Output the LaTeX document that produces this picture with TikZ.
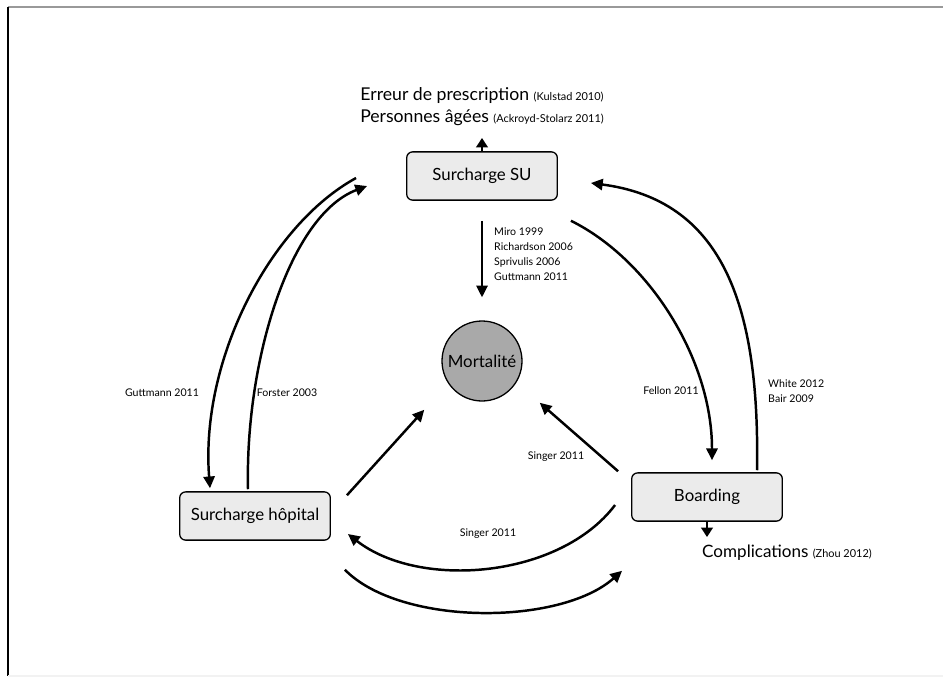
\documentclass[tikz,border=0pt]{standalone}
\usepackage{fontspec}
\setmainfont{Lato}
\usepackage{tikz}
\usetikzlibrary{shapes.geometric, arrows.meta, calc}
\definecolor{boxgray}{HTML}{EBEBEB}
\definecolor{circgray}{HTML}{A9A9A9}
\tikzstyle{loadbox} = [rectangle, rounded corners=5pt, minimum width=128pt, minimum height=41pt, text centered, draw=black, line width=1.1pt, fill=boxgray, font=\fontsize{14.3}{16}\selectfont]
\tikzstyle{outcome} = [circle, minimum size=68pt, inner sep=0pt, draw=black, line width=1.1pt, fill=circgray, font=\fontsize{14.3}{16}\selectfont]
\tikzstyle{arrow} = [line width=2.1pt, -{Triangle[length=10pt, width=9.5pt]}]
\tikzstyle{stub} = [line width=1.5pt, -{Triangle[length=8pt, width=10pt]}]
\tikzstyle{ref} = [font=\fontsize{9}{12.5}\selectfont, align=left, inner sep=0pt]
\tikzstyle{note} = [font=\fontsize{15}{17}\selectfont, inner sep=0pt]
\newcommand{\refsize}[1]{{\fontsize{9.3}{10}\selectfont #1}}

\begin{document}
\begin{tikzpicture}[x=0.85pt, y=-0.85pt]
    \useasboundingbox (0,0) rectangle (943,679);
    % frame
    \draw [gray!80, line width=2pt] (8,7) -- (943,7);
    \draw [black, line width=1pt] (8,7) -- (8,676);
    \draw [gray!10, line width=1pt] (8,676) -- (943,676);

    \node (su) [loadbox] at (482,176) {Surcharge SU};
    \node (mort) [outcome] at (482,361) {Mortalité};
    \node (hosp) [loadbox] at (255,516) {Surcharge hôpital};
    \node (board) [loadbox] at (707,497) {Boarding};

    \node (erreur) [note] at (482,96) {Erreur de prescription \refsize{(Kulstad 2010)}};
    \node (agees) [note] at (482,118) {Personnes âgées \refsize{(Ackroyd-Stolarz 2011)}};
    \node (compl) [note, anchor=west, font=\fontsize{14.5}{17}\selectfont] at (702,553) {Complications \refsize{(Zhou 2012)}};
    \coordinate (upTip) at (482,138);
    \coordinate (downTip) at (707,537);

    \node (refMort) [ref, anchor=north west] at (494,228) {Miro 1999\\Richardson 2006\\Sprivulis 2006\\Guttmann 2011};
    \node (refHospOut) [ref] at (162,393) {Guttmann 2011};
    \node (refHospIn) [ref] at (287,393) {Forster 2003};
    \node (refBoardIn) [ref] at (671,391) {Fellon 2011};
    \node (refBoardOut) [ref, anchor=west] at (768,391) {White 2012\\Bair 2009};
    \node (refSinger) [ref] at (556,457) {Singer 2011};
    \node (refBottom) [ref] at (488,534) {Singer 2011};

    \draw [stub] (su.north) -- (upTip);
    \draw [stub] (board.south) -- (downTip);
    \draw [arrow] ($(su.south)+(0,20)$) -- ($(mort.north)+(0,-23)$);

    \draw [arrow] ($(su.west)+(-50,2)$) .. controls (270,225) and (200,360) .. ($(hosp.north)+(-45,-3)$);
    \draw [arrow] ($(hosp.north)+(-7,-2)$) .. controls (245,360) and (290,215) .. ($(su.west)+(-39,10)$);
    \draw [arrow] ($(su.south east)+(13,20)$) .. controls (650,260) and (712,360) .. ($(board.north)+(5,-12)$);
    \draw [arrow] ($(board.north)+(50,-2)$) .. controls (760,300) and (720,200) .. ($(su.east)+(33,7)$);

    \draw [arrow] ($(hosp.north east)+(16,4)$) -- ($(mort.south west)+(-29,20)$);
    \draw [arrow] ($(board.north west)+(-13,-1)$) -- ($(mort.south east)+(29,13)$);

    \draw [arrow] ($(board.west)+(-16,8)$) .. controls (560,578) and (420,590) .. ($(hosp.east)+(17,18)$);
    \draw [arrow] ($(hosp.south east)+(14,29)$) .. controls (400,626) and (560,626) .. ($(board.south west)+(-9,49)$);
\end{tikzpicture}
\end{document}
